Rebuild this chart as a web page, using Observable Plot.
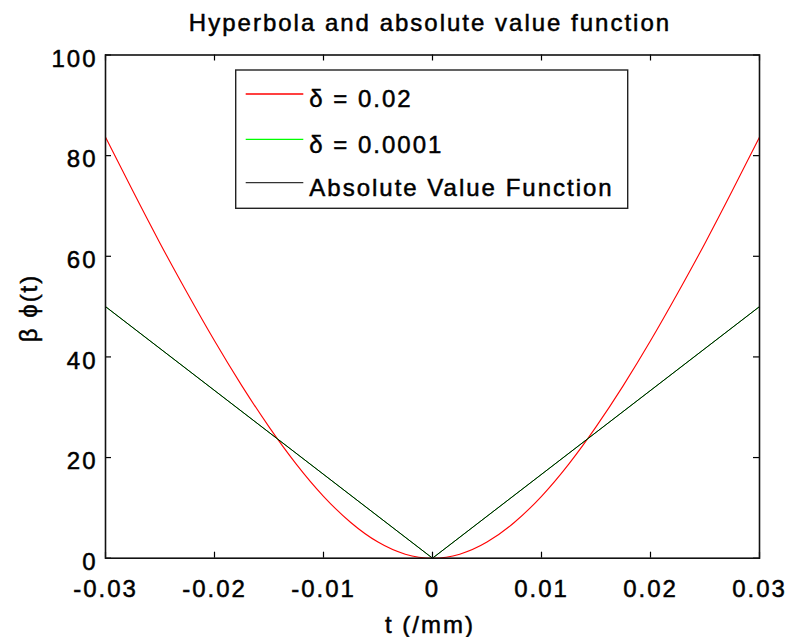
<!DOCTYPE html>
<html><head><meta charset="utf-8">
<script src="https://cdn.jsdelivr.net/npm/d3@7"></script>
<script src="https://cdn.jsdelivr.net/npm/@observablehq/plot@0.6"></script>
<style>
body{margin:0;background:#fff;}
#wrap{position:relative;width:788px;height:637px;overflow:hidden;background:#fff;}
#wrap svg text{letter-spacing:2px;stroke:#000;stroke-width:0.5px;paint-order:stroke;}
#overlay{position:absolute;left:0;top:0;pointer-events:none;}
</style></head><body><div id="wrap"></div>
<script>
// ---- data ----
const tRed = [-0.03,-0.0275,-0.025,-0.0225,-0.02,-0.0175,-0.015,-0.0125,-0.01,-0.0075,-0.005,-0.0025,0,0.0025,0.005,0.0075,0.01,0.0125,0.015,0.0175,0.02,0.0225,0.025,0.0275,0.03];
const redVals = [83.7,73.0,62.6,52.7,43.2,34.3,26.1,18.7,12.3,7.1,3.2,0.8,0,0.8,3.2,7.1,12.3,18.7,26.1,34.3,43.2,52.7,62.6,73.0,83.7];
const tAbs = [-0.03,0,0.03];
const greenVals = [50,0,50];
const blackVals = [50,0,50];
const xTicks = [-0.03,-0.02,-0.01,0,0.01,0.02,0.03];
const yTicks = [0,20,40,60,80,100];
const seriesNames = ["δ = 0.02","δ = 0.0001","Absolute Value Function"];
const seriesColors = ["#ff0000","#00ff00","#000000"];
const titleText = "Hyperbola and absolute value function";
const xLabel = "t (/mm)";
const yLabel = "β ϕ(t)";

const W = 788, H = 637;
const mL = 105, mR = 29, mT = 54.5, mB = 79.3;
const innerW = W - mL - mR, innerH = H - mT - mB;
const font = "'Liberation Sans', Arial, Helvetica, sans-serif";
const fmt = d => d === 0 ? "0" : String(d);

const redData = tRed.map((t,i)=>({t, v: redVals[i]}));
const greenData = tAbs.map((t,i)=>({t, v: greenVals[i]}));
const blackData = tAbs.map((t,i)=>({t, v: blackVals[i]}));

const chart = Plot.plot({
  width: W, height: H,
  marginLeft: mL, marginRight: mR, marginTop: mT, marginBottom: mB,
  style: {fontFamily: font, fontSize: "24px", background: "white", color: "#000"},
  x: {domain: [-0.03, 0.03]},
  y: {domain: [0, 100]},
  marks: [
    Plot.axisX(xTicks, {anchor: "bottom", tickSize: 0, tickPadding: 22, tickFormat: fmt, label: null, fontSize: 24}),
    Plot.axisY(yTicks, {anchor: "left", tickSize: 0, tickPadding: 8, tickFormat: fmt, label: null, fontSize: 24, dy: 4}),
    Plot.tickX(xTicks, {x: d => d, insetTop: innerH - 6, stroke: "#000", strokeWidth: 1.2}),
    Plot.tickX(xTicks, {x: d => d, insetBottom: innerH - 6, stroke: "#000", strokeWidth: 1.2}),
    Plot.tickY(yTicks, {y: d => d, insetRight: innerW - 6, stroke: "#000", strokeWidth: 1.2}),
    Plot.tickY(yTicks, {y: d => d, insetLeft: innerW - 6, stroke: "#000", strokeWidth: 1.2}),
    Plot.line(redData, {x: "t", y: "v", stroke: seriesColors[0], strokeWidth: 1.1, curve: "natural"}),
    Plot.line(greenData, {x: "t", y: "v", stroke: seriesColors[1], strokeWidth: 1}),
    Plot.line(blackData, {x: "t", y: "v", stroke: seriesColors[2], strokeWidth: 1}),
    Plot.frame({stroke: "#111", strokeWidth: 1.6})
  ]
});
const wrap = document.getElementById("wrap");
wrap.appendChild(chart);

// overlay: title, axis labels, legend
const svg = d3.select(wrap).append("svg").attr("id","overlay")
  .attr("width", W).attr("height", H)
  .style("font-family", font).style("font-size", "24px");

svg.append("text").attr("x", 430).attr("y", 30.7).attr("text-anchor","middle").attr("fill","#000").text(titleText);
svg.append("text").attr("x", 430).attr("y", 633).attr("text-anchor","middle").attr("fill","#000").text(xLabel);
svg.append("text").attr("transform","translate(36.5,308) rotate(-90)").attr("text-anchor","middle").attr("fill","#000").text(yLabel);

const lg = svg.append("g");
lg.append("rect").attr("x", 235.7).attr("y", 70).attr("width", 392).attr("height", 138.3)
  .attr("fill","#fff").attr("stroke","#222").attr("stroke-width",1.4);
const lineYs = [94, 139.3, 182.7];
seriesNames.forEach((name, i) => {
  lg.append("line").attr("x1", 245.7).attr("x2", 303.3).attr("y1", lineYs[i]).attr("y2", lineYs[i])
    .attr("stroke", i === 2 ? "#333" : seriesColors[i]).attr("stroke-width", 1.3);
  lg.append("text").attr("x", 309.3).attr("y", lineYs[i] + 13.3).attr("fill","#000").text(name);
});
</script>
</body></html>
